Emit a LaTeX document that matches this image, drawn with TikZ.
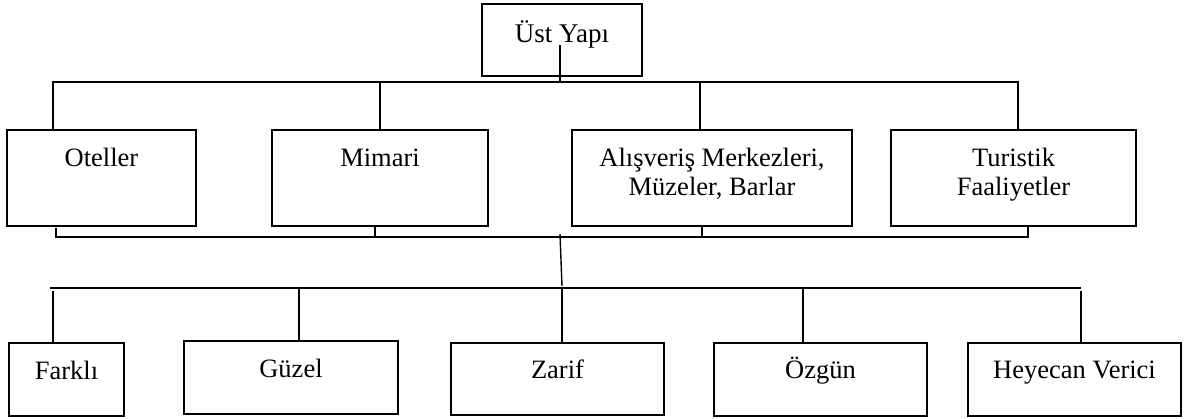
\documentclass[tikz,border=0pt]{standalone}
\usepackage{fontspec}
\setmainfont{Liberation Serif}
\newcommand{\boxtxt}[4]{\parbox[t][#2pt][t]{#1pt}{\centering\rule{0pt}{#3pt}#4\par}}
\begin{document}
\begin{tikzpicture}[x=1pt,y=-1pt,
  bx/.style={draw, line width=1.7pt, inner sep=0pt, outer sep=0pt, anchor=north west,
    font=\fontsize{26.5}{29}\selectfont},
  con/.style={line width=1.4pt}]
\useasboundingbox (0,0) rectangle (1184,418);
% boxes
\node[bx] (top) at (482,4) {\boxtxt{160}{72}{38}{\fontsize{27}{29}\selectfont Üst Yapı}};
\node[bx] (ot) at (7,130) {\boxtxt{189}{96}{36}{Oteller}};
\node[bx] (mi) at (272,130) {\boxtxt{216}{96}{36}{Mimari}};
\node[bx] (al) at (572,130) {\boxtxt{280}{96}{36}{Alışveriş Merkezleri,\\Müzeler, Barlar}};
\node[bx] (tu) at (891,130) {\boxtxt{245}{96}{36}{Turistik\\Faaliyetler}};
\node[bx] (fa) at (9,343) {\boxtxt{115}{73}{36}{Farklı}};
\node[bx] (gu) at (184,341) {\boxtxt{214}{73}{36}{Güzel}};
\node[bx] (za) at (451,343) {\boxtxt{213}{72}{35}{Zarif}};
\node[bx] (oz) at (714,343) {\boxtxt{213}{73}{35}{Özgün}};
\node[bx] (he) at (968,343) {\boxtxt{213}{73}{35}{Heyecan Verici}};
% bus coordinates
\coordinate (busA) at (560,82);
\coordinate (busB) at (560,237);
\coordinate (busC) at (562,288);
\coordinate (busCl) at (50,288);
\coordinate (busCr) at (1081,288);
% top connectors
\draw[con] ([xshift=78pt,yshift=-41pt]top.north west) -- (busA);
\draw[con] ([xshift=46pt]ot.north west) |- (busA) -| ([xshift=127pt]tu.north west);
\draw[con] ([xshift=108pt]mi.north west) -- ([xshift=108pt]mi.north west |- busA);
\draw[con] ([xshift=128pt]al.north west) -- ([xshift=128pt]al.north west |- busA);
% middle bus
\draw[con] ([xshift=49pt,yshift=-2pt]ot.south west) |- (busB) -| ([xshift=137pt]tu.south west);
\draw[con] ([xshift=103pt]mi.south west) -- ([xshift=103pt]mi.south west |- busB);
\draw[con] ([xshift=130pt]al.south west) -- ([xshift=130pt]al.south west |- busB);
\draw[con] ([yshift=3pt]busB) -- ([yshift=2pt]busC);
% bottom bus
\draw[con] (busCl) -- (busCr);
\draw[con] ([xshift=44pt]fa.north west) -- ([xshift=44pt,yshift=-3pt]fa.north west |- busC);
\draw[con] ([xshift=115pt]gu.north west) -- ([xshift=115pt]gu.north west |- busC);
\draw[con] ([xshift=111pt]za.north west) -- ([xshift=111pt]za.north west |- busC);
\draw[con] ([xshift=89pt]oz.north west) -- ([xshift=89pt]oz.north west |- busC);
\draw[con] ([xshift=113pt]he.north west) -- ([xshift=113pt,yshift=-3pt]he.north west |- busC);
\end{tikzpicture}
\end{document}
